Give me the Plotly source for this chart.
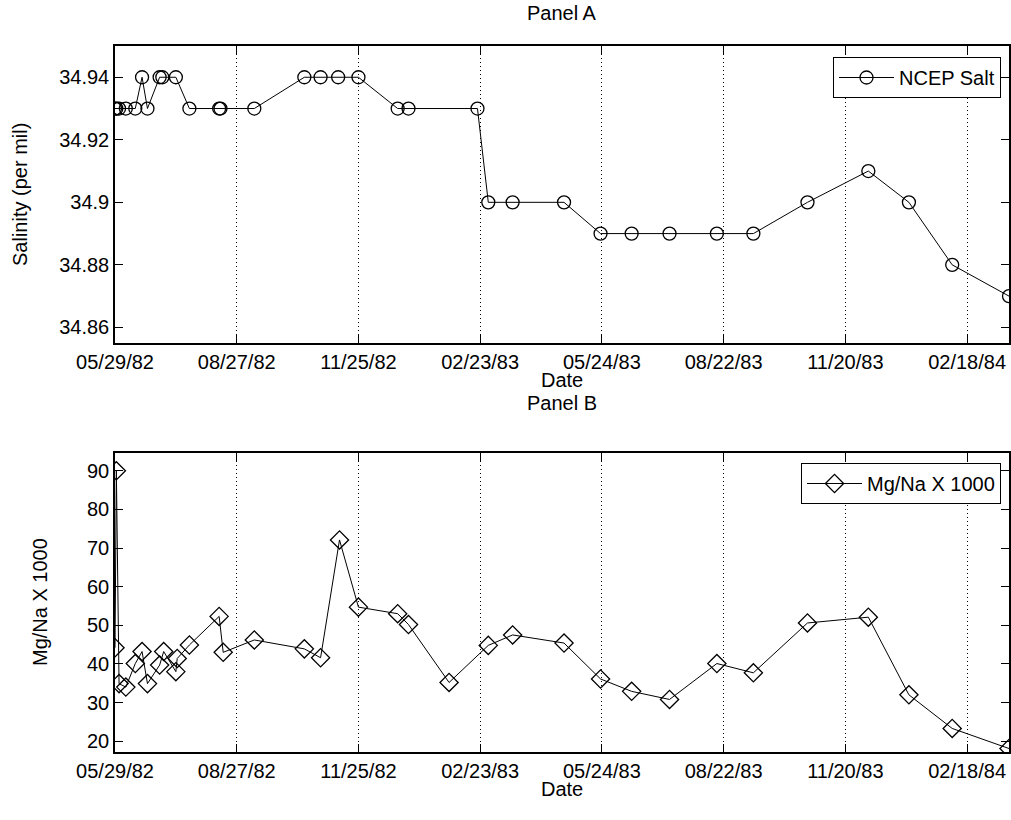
import pandas as pd
import plotly.graph_objects as go

# ---- data ----
sal_dates = ["1982-05-29", "1982-05-30", "1982-06-01", "1982-06-06", "1982-06-13",
             "1982-06-18", "1982-06-22", "1982-07-01", "1982-07-03", "1982-07-13",
             "1982-07-23", "1982-08-14", "1982-08-15", "1982-09-09", "1982-10-16",
             "1982-10-28", "1982-11-10", "1982-11-25", "1982-12-24", "1983-01-01",
             "1983-02-21", "1983-03-01", "1983-03-19", "1983-04-26", "1983-05-23",
             "1983-06-15", "1983-07-13", "1983-08-17", "1983-09-13", "1983-10-23",
             "1983-12-07", "1984-01-06", "1984-02-07", "1984-03-20"]
sal_values = [34.93, 34.93, 34.93, 34.93, 34.93,
              34.94, 34.93, 34.94, 34.94, 34.94,
              34.93, 34.93, 34.93, 34.93, 34.94,
              34.94, 34.94, 34.94, 34.93, 34.93,
              34.93, 34.90, 34.90, 34.90, 34.89,
              34.89, 34.89, 34.89, 34.89, 34.90,
              34.91, 34.90, 34.88, 34.87]

mg_dates = ["1982-05-29", "1982-05-30", "1982-06-01", "1982-06-06", "1982-06-13",
            "1982-06-18", "1982-06-22", "1982-07-01", "1982-07-04", "1982-07-13",
            "1982-07-14", "1982-07-23", "1982-08-14", "1982-08-17", "1982-09-09",
            "1982-10-16", "1982-10-28", "1982-11-11", "1982-11-25", "1982-12-24",
            "1983-01-01", "1983-01-31", "1983-03-01", "1983-03-19", "1983-04-26",
            "1983-05-23", "1983-06-15", "1983-07-13", "1983-08-17", "1983-09-13",
            "1983-10-23", "1983-12-07", "1984-01-06", "1984-02-07", "1984-03-20"]
mg_values = [44.2, 90.0, 34.9, 34.0, 40.1,
             43.2, 34.9, 39.7, 43.2, 38.0,
             41.4, 44.9, 52.3, 43.0, 46.2,
             43.9, 41.6, 72.1, 54.7, 53.0,
             50.2, 35.2, 44.8, 47.5, 45.4,
             36.1, 32.9, 30.8, 40.1, 37.7,
             50.6, 52.1, 32.0, 23.3, 18.1]

x_tick_labels = ["05/29/82", "08/27/82", "11/25/82", "02/23/83",
                 "05/24/83", "08/22/83", "11/20/83", "02/18/84"]
sal_ticks = [34.86, 34.88, 34.90, 34.92, 34.94]
sal_tick_text = ["34.86", "34.88", "34.9", "34.92", "34.94"]
mg_ticks = [20, 30, 40, 50, 60, 70, 80, 90]

x_range = ["1982-05-29", "1984-03-20"]
sal_range = [34.855, 34.95]
mg_range = [17.2, 94.6]

# ---- figure ----
FONT = "Liberation Sans, Arial, sans-serif"
tick_vals = [pd.to_datetime(t, format="%m/%d/%y") for t in x_tick_labels]

fig = go.Figure()
fig.add_trace(go.Scatter(
    x=pd.to_datetime(sal_dates), y=sal_values, mode="lines+markers",
    name="NCEP Salt", xaxis="x", yaxis="y", legend="legend",
    line=dict(color="black", width=1),
    marker=dict(symbol="circle-open", size=13, color="black", line=dict(width=1.3)),
))
fig.add_trace(go.Scatter(
    x=pd.to_datetime(mg_dates), y=mg_values, mode="lines+markers",
    name="Mg/Na X 1000", xaxis="x2", yaxis="y2", legend="legend2",
    line=dict(color="black", width=1),
    marker=dict(symbol="diamond-open", size=14, color="black", line=dict(width=1.3)),
))

xcommon = dict(
    type="date", range=x_range, tickvals=tick_vals, ticktext=x_tick_labels,
    showgrid=True, gridcolor="black", griddash="1px,3px", gridwidth=1,
    showline=True, linecolor="black", linewidth=1.5, mirror="ticks",
    ticks="inside", ticklen=8, tickcolor="black", automargin=False,
    tickfont=dict(family=FONT, size=20, color="black"), zeroline=False,
)
ycommon = dict(
    showgrid=False, showline=True, linecolor="black", linewidth=1.5, mirror="ticks",
    ticks="inside", ticklen=8, tickcolor="black", automargin=False,
    tickfont=dict(family=FONT, size=20, color="black"), zeroline=False,
)

legend_common = dict(
    xanchor="right", yanchor="top", bgcolor="white", bordercolor="black",
    borderwidth=1, itemwidth=55, font=dict(family=FONT, size=20, color="black"),
)

W, H = 1011, 820
ML, MR, MT, MB = 115, 2, 46, 68
PH = H - MT - MB  # plot area height

def py(page_y):
    """page pixel y -> paper coordinate"""
    return (H - MB - page_y) / PH

def px(page_x):
    return (page_x - ML) / (W - ML - MR)

fig.update_layout(
    width=W, height=H,
    margin=dict(l=ML, r=MR, t=MT, b=MB),
    paper_bgcolor="white", plot_bgcolor="white",
    font=dict(family=FONT, size=20, color="black"),
    xaxis=dict(domain=[0, 1], anchor="y", **xcommon),
    yaxis=dict(domain=[py(343), 1], anchor="x", range=sal_range,
               tickvals=sal_ticks, ticktext=sal_tick_text, **ycommon),
    xaxis2=dict(domain=[0, 1], anchor="y2", **xcommon),
    yaxis2=dict(domain=[0, py(453)], anchor="x2", range=mg_range,
                tickvals=mg_ticks, **ycommon),
    legend=dict(x=px(1001), y=py(57), **legend_common),
    legend2=dict(x=px(1001), y=py(463), **legend_common),
    showlegend=True,
)

ann = [
    ("Panel A", px(562), py(13), 0),
    ("Date", px(562), py(380), 0),
    ("Panel B", px(562), py(403), 0),
    ("Date", px(562), py(789), 0),
    ("Salinity (per mil)", px(20), py(195), -90),
    ("Mg/Na X 1000", px(40), py(602), -90),
]
for text, ax, ay, ang in ann:
    fig.add_annotation(text=text, x=ax, y=ay, xref="paper", yref="paper",
                       xanchor="center", yanchor="middle", showarrow=False,
                       textangle=ang, font=dict(family=FONT, size=20, color="black"))

# remove the default page margin so the figure sits at the window's top-left corner
fig.write_html("out.html", config={"displayModeBar": False},
               post_script="document.body.style.margin='0px';")
